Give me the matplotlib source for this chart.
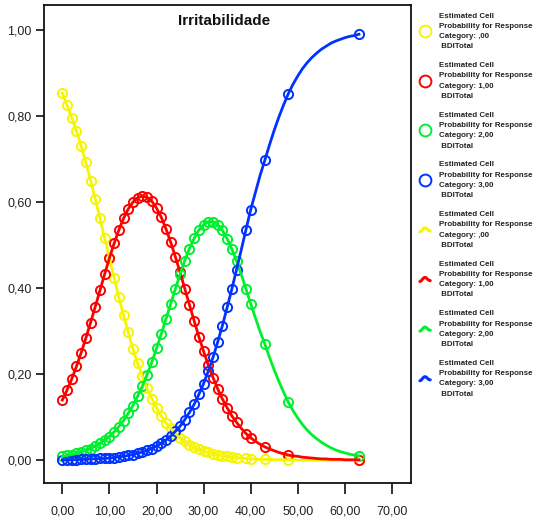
import numpy as np
import matplotlib
matplotlib.use('Agg')
from matplotlib import pyplot as plt
from matplotlib.lines import Line2D
from matplotlib.legend_handler import HandlerBase

plt.rcParams['font.family'] = ['Liberation Sans', 'DejaVu Sans']

# BDI total along the fitted curves (0..63)
bdi = list(range(0, 64))
# BDI values that were observed (get a marker)
bdi_obs = list(range(0, 38)) + [39, 40, 43, 48, 63]

# estimated probability for each response category
p_cat0 = [0.853, 0.825, 0.796, 0.765, 0.730, 0.692, 0.650, 0.607, 0.562, 0.516,
          0.470, 0.424, 0.379, 0.337, 0.297, 0.259, 0.225, 0.195, 0.167, 0.143,
          0.122, 0.103, 0.087, 0.074, 0.062, 0.052, 0.044, 0.036, 0.030, 0.025,
          0.021, 0.018, 0.015, 0.012, 0.010, 0.009, 0.007, 0.006, 0.005, 0.004,
          0.003, 0.003, 0.002, 0.002, 0.002, 0.001, 0.001, 0.001, 0.001, 0.001,
          0.000, 0.000, 0.000, 0.000, 0.000, 0.000, 0.000, 0.000, 0.000, 0.000,
          0.000, 0.000, 0.000, 0.000]
p_cat1 = [0.140, 0.163, 0.189, 0.218, 0.250, 0.284, 0.320, 0.357, 0.395, 0.433,
          0.470, 0.504, 0.535, 0.562, 0.584, 0.600, 0.610, 0.614, 0.611, 0.602,
          0.586, 0.565, 0.538, 0.507, 0.473, 0.437, 0.399, 0.361, 0.324, 0.287,
          0.253, 0.221, 0.192, 0.166, 0.142, 0.122, 0.103, 0.088, 0.074, 0.062,
          0.052, 0.044, 0.037, 0.031, 0.026, 0.022, 0.018, 0.015, 0.012, 0.010,
          0.009, 0.007, 0.006, 0.005, 0.004, 0.003, 0.003, 0.002, 0.002, 0.002,
          0.001, 0.001, 0.001, 0.001]
p_cat2 = [0.009, 0.011, 0.013, 0.016, 0.019, 0.023, 0.027, 0.033, 0.039, 0.047,
          0.055, 0.066, 0.078, 0.092, 0.109, 0.127, 0.149, 0.172, 0.199, 0.228,
          0.260, 0.293, 0.328, 0.363, 0.398, 0.432, 0.464, 0.492, 0.516, 0.535,
          0.547, 0.554, 0.554, 0.547, 0.534, 0.515, 0.491, 0.463, 0.432, 0.398,
          0.364, 0.331, 0.299, 0.270, 0.239, 0.210, 0.183, 0.158, 0.135, 0.115,
          0.098, 0.083, 0.070, 0.059, 0.050, 0.042, 0.035, 0.029, 0.024, 0.020,
          0.017, 0.014, 0.012, 0.010]
p_cat3 = [0.001, 0.001, 0.001, 0.001, 0.002, 0.002, 0.003, 0.003, 0.004, 0.004,
          0.005, 0.006, 0.008, 0.009, 0.011, 0.013, 0.016, 0.019, 0.023, 0.027,
          0.033, 0.039, 0.047, 0.056, 0.067, 0.079, 0.094, 0.111, 0.130, 0.153,
          0.178, 0.207, 0.239, 0.275, 0.313, 0.355, 0.398, 0.443, 0.489, 0.536,
          0.582, 0.622, 0.662, 0.697, 0.733, 0.767, 0.798, 0.826, 0.852, 0.874,
          0.893, 0.910, 0.924, 0.936, 0.946, 0.955, 0.962, 0.969, 0.974, 0.978,
          0.982, 0.985, 0.987, 0.990]

categories = [",00", "1,00", "2,00", "3,00"]
colors = ["#f5f500", "#ff0000", "#00f030", "#0033ff"]
series = [p_cat0, p_cat1, p_cat2, p_cat3]


class WaveHandler(HandlerBase):
    # little s-shaped line glyph used for the fit lines in the legend
    def create_artists(self, legend, orig_handle, xdescent, ydescent,
                       width, height, fontsize, trans):
        t = np.linspace(0, 1, 30)
        xs = -xdescent + width * t
        ys = -ydescent + height * (0.5 + 0.4 * np.sin(np.pi * (2 * t - 0.5)) * (1 - 0.4 * t))
        ln = Line2D(xs, ys, color=orig_handle.get_color(), lw=2.2,
                    solid_capstyle='round', transform=trans)
        return [ln]


fig = plt.figure(figsize=(5.37, 5.22), dpi=100)
ax = fig.add_axes([0.0819, 0.0747, 0.683, 0.9157])

x = np.array(bdi)
obs = np.isin(x, bdi_obs)
for ys, c in zip(series, colors):
    ys = np.array(ys)
    ax.plot(x[obs], ys[obs], ls='', marker='o', ms=6.6, mfc='none', mec=c, mew=1.4, zorder=2)
for ys, c in zip(series, colors):
    ax.plot(x, ys, color=c, lw=2.0, zorder=3)

ax.set_xlim(-3.9, 74)
ax.set_ylim(-0.053, 1.058)
ax.set_xticks(np.arange(0, 71, 10))
ax.set_xticklabels([f"{v:.2f}".replace(".", ",") for v in np.arange(0, 71, 10)])
ax.set_yticks(np.arange(0, 1.01, 0.2))
ax.set_yticklabels([f"{v:.2f}".replace(".", ",") for v in np.arange(0, 1.01, 0.2)])
ax.tick_params(axis='x', length=8, width=1.3, pad=8, labelsize=9, colors='#222222')
ax.tick_params(axis='y', length=6, width=1.3, pad=3, labelsize=9, colors='#222222')
for sp in ax.spines.values():
    sp.set_linewidth(1.3)
    sp.set_color('#111111')

ax.text(0.49, 0.967, "Irritabilidade", transform=ax.transAxes, ha='center', va='center',
        fontsize=11, fontweight='bold', color='#111111')

handles = []
labels = []
for cat, c in zip(categories, colors):
    handles.append(Line2D([], [], ls='', marker='o', ms=8.5, mfc='none', mec=c, mew=1.4))
    labels.append(f"Estimated Cell\nProbability for Response\nCategory: {cat}\n BDITotal")
wave_handles = []
for cat, c in zip(categories, colors):
    h = Line2D([], [], color=c)
    wave_handles.append(h)
    handles.append(h)
    labels.append(f"Estimated Cell\nProbability for Response\nCategory: {cat}\n BDITotal")

leg = fig.legend(handles, labels, loc='upper left', bbox_to_anchor=(0.782, 0.976),
                 frameon=False, prop={'size': 5.7, 'weight': 'bold'},
                 handlelength=1.3, handletextpad=1.1, labelspacing=1.5,
                 borderaxespad=0, borderpad=0,
                 handler_map={h: WaveHandler() for h in wave_handles})
for t in leg.get_texts():
    t.set_color('#222222')
    t.set_linespacing(1.65)

plt.savefig("out.png", dpi=100)
plt.close()
